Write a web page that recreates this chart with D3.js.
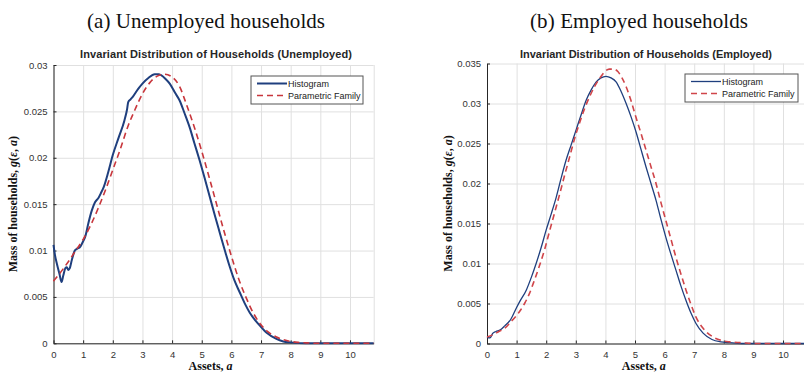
<!DOCTYPE html>
<html>
<head>
<meta charset="utf-8">
<script src="https://cdn.jsdelivr.net/npm/d3@7"></script>
<style>
    body { margin: 0; background: #fff; }
    svg { display: block; font-family: "Liberation Sans", Arial, sans-serif; }
    .grid line { stroke: #e0e0e0; stroke-width: 1; }
    .grid path { display: none; }
    .axis path, .axis line { stroke: #262626; }
    .axis text { fill: #333; font-size: 9.5px; font-family: "Liberation Sans", Arial, sans-serif; }
</style>
</head>
<body>
<div id="chart"></div>
<script>
// ---- data ----
var xTicks = [0, 1, 2, 3, 4, 5, 6, 7, 8, 9, 10];
var unempYTicks = [0, 0.005, 0.01, 0.015, 0.02, 0.025, 0.03];
var empYTicks = [0, 0.005, 0.01, 0.015, 0.02, 0.025, 0.03, 0.035];

// (a) unemployed, histogram
var unempHistX = [0, 0.05, 0.12, 0.2, 0.27, 0.33, 0.4, 0.45, 0.5, 0.55, 0.62, 0.72, 0.8, 0.9, 1.0, 1.07, 1.18, 1.29, 1.4, 1.52, 1.6, 1.7, 1.85, 2.0, 2.2, 2.39, 2.48, 2.52, 2.6, 2.68, 2.85, 3.0, 3.2, 3.41, 3.55, 3.63, 3.78, 3.92, 4.1, 4.25, 4.42, 4.59, 4.75, 4.93, 5.1, 5.27, 5.45, 5.61, 5.78, 5.94, 6.1, 6.28, 6.45, 6.62, 6.8, 6.96, 7.2, 7.5, 7.75, 8.0, 8.5, 9.0, 10.0, 10.8];
var unempHistY = [0.0106, 0.0095, 0.0085, 0.0075, 0.0066, 0.0073, 0.0081, 0.0082, 0.0079, 0.0081, 0.009, 0.01, 0.0102, 0.0104, 0.011, 0.0115, 0.013, 0.0143, 0.0152, 0.0157, 0.0162, 0.0169, 0.0185, 0.0203, 0.0222, 0.024, 0.0252, 0.026, 0.0263, 0.0266, 0.0274, 0.028, 0.0286, 0.029, 0.029, 0.0289, 0.0285, 0.028, 0.027, 0.0262, 0.0248, 0.0233, 0.0216, 0.0197, 0.0178, 0.0158, 0.0137, 0.0119, 0.01, 0.0083, 0.0068, 0.0055, 0.0043, 0.0033, 0.0025, 0.0019, 0.0011, 0.0005, 0.0002, 0.0001, 0, 0, 0, 0];

// (a) unemployed, parametric family
var unempParX = [0, 0.25, 0.5, 0.75, 1.0, 1.25, 1.5, 1.75, 2.0, 2.25, 2.5, 2.75, 3.0, 3.25, 3.5, 3.75, 4.0, 4.25, 4.5, 4.75, 5.0, 5.25, 5.5, 5.75, 6.0, 6.25, 6.5, 6.75, 7.0, 7.25, 7.5, 7.75, 8.0, 8.25, 8.5, 9.0, 10.0, 10.8];
var unempParY = [0.0067, 0.0077, 0.0088, 0.01, 0.0112, 0.0127, 0.0145, 0.0165, 0.0187, 0.0209, 0.0233, 0.0252, 0.0269, 0.0281, 0.0288, 0.029, 0.0287, 0.0277, 0.0256, 0.0233, 0.0207, 0.0179, 0.015, 0.0121, 0.0094, 0.0069, 0.0049, 0.0032, 0.002, 0.0012, 0.0007, 0.0004, 0.0002, 0.0001, 0.00005, 0, 0, 0];

// (b) employed, histogram
var empHistX = [0, 0.1, 0.2, 0.3, 0.45, 0.6, 0.8, 1.0, 1.1, 1.33, 1.5, 1.66, 1.83, 2.0, 2.17, 2.34, 2.5, 2.67, 2.84, 3.01, 3.18, 3.35, 3.52, 3.69, 3.85, 4.02, 4.19, 4.36, 4.53, 4.7, 4.87, 5.03, 5.2, 5.37, 5.54, 5.71, 5.87, 6.04, 6.21, 6.38, 6.55, 6.72, 6.89, 7.06, 7.3, 7.6, 7.9, 8.2, 8.6, 9.0, 10.0, 10.8];
var empHistY = [0.0008, 0.0007, 0.0013, 0.0015, 0.0017, 0.0022, 0.003, 0.0045, 0.0052, 0.0067, 0.0083, 0.01, 0.012, 0.0142, 0.0162, 0.0183, 0.0206, 0.0229, 0.0248, 0.0267, 0.0286, 0.0304, 0.0317, 0.0327, 0.0332, 0.0334, 0.0332, 0.0327, 0.0315, 0.03, 0.0283, 0.0265, 0.0243, 0.0221, 0.02, 0.0179, 0.0156, 0.0133, 0.0112, 0.0092, 0.0072, 0.0054, 0.0038, 0.0025, 0.0013, 0.0005, 0.0002, 0.0001, 0, 0, 0, 0];

// (b) employed, parametric family
var empParX = [0, 0.2, 0.4, 0.6, 0.8, 1.0, 1.1, 1.27, 1.44, 1.61, 1.78, 1.95, 2.11, 2.28, 2.45, 2.62, 2.79, 2.95, 3.12, 3.29, 3.46, 3.63, 3.8, 3.96, 4.13, 4.28, 4.42, 4.56, 4.7, 4.87, 5.03, 5.2, 5.37, 5.54, 5.71, 5.87, 6.04, 6.21, 6.38, 6.55, 6.72, 6.89, 7.06, 7.3, 7.6, 7.9, 8.2, 8.6, 9.0, 10.0, 10.8];
var empParY = [0.0008, 0.0011, 0.0015, 0.0019, 0.0027, 0.0035, 0.004, 0.005, 0.0063, 0.008, 0.0098, 0.0118, 0.014, 0.0163, 0.0186, 0.021, 0.0233, 0.0255, 0.0275, 0.0293, 0.0308, 0.0321, 0.0331, 0.0339, 0.0343, 0.0343, 0.034, 0.0332, 0.0321, 0.0303, 0.0283, 0.0263, 0.0242, 0.0221, 0.02, 0.0177, 0.0154, 0.0131, 0.0108, 0.0087, 0.0067, 0.0049, 0.0033, 0.0019, 0.0009, 0.0004, 0.0002, 0.0001, 0, 0, 0];

var svg = d3.select('#chart').append('svg')
    .attr('width', 804)
    .attr('height', 372);

function zip(xs, ys) {
    return xs.map(function (x, i) { return [x, ys[i]]; });
}

//one panel of the figure
function drawPanel(p) {
    var xScale = d3.scaleLinear().domain([0, 10.8]).range([p.left, p.right]);
    var yScale = d3.scaleLinear().domain([0, p.yMax]).range([p.bottom, p.top]);

    //caption above the panel
    svg.append('text')
        .attr('x', p.capX).attr('y', 28)
        .attr('text-anchor', 'middle')
        .attr('textLength', p.capLen)
        .style('font-family', '"Liberation Serif", "DejaVu Serif", serif')
        .style('font-size', '21px')
        .style('fill', '#111')
        .text(p.caption);

    //chart title
    svg.append('text')
        .attr('x', p.titleX).attr('y', 58)
        .attr('text-anchor', 'middle')
        .attr('textLength', p.titleLen)
        .style('font-size', '11px')
        .style('font-weight', 'bold')
        .style('fill', '#262626')
        .text(p.title);

    //grids
    svg.append('g').attr('class', 'grid')
        .attr('transform', 'translate(0,' + p.bottom + ')')
        .call(d3.axisBottom(xScale).tickValues(p.xTicks.concat([10.8])).tickSize(-(p.bottom - p.top)).tickFormat(''));
    svg.append('g').attr('class', 'grid')
        .attr('transform', 'translate(' + p.left + ',0)')
        .call(d3.axisLeft(yScale).tickValues(p.yTicks).tickSize(-(p.right - p.left)).tickFormat(''));

    //axes
    svg.append('g').attr('class', 'axis')
        .attr('transform', 'translate(0,' + p.bottom + ')')
        .call(d3.axisBottom(xScale).tickValues(p.xTicks).tickSizeInner(-3).tickSizeOuter(0).tickPadding(8));
    svg.append('g').attr('class', 'axis')
        .attr('transform', 'translate(' + p.left + ',0)')
        .call(d3.axisLeft(yScale).tickValues(p.yTicks).tickSizeInner(-3).tickSizeOuter(0).tickPadding(6)
            .tickFormat(function (d) { return String(d); }));

    var line = d3.line()
        .x(function (d) { return xScale(d[0]); })
        .y(function (d) { return yScale(d[1]); })
        .curve(d3.curveMonotoneX);

    svg.append('path')
        .datum(zip(p.histX, p.histY))
        .attr('d', line)
        .attr('fill', 'none')
        .attr('stroke', '#1f3f7e')
        .attr('stroke-width', p.histWidth);

    svg.append('path')
        .datum(zip(p.parX, p.parY))
        .attr('d', line)
        .attr('fill', 'none')
        .attr('stroke', p.parColor)
        .attr('stroke-width', 1.6)
        .attr('stroke-dasharray', '6,4');

    //legend
    var lg = svg.append('g').attr('transform', 'translate(' + p.legX + ',' + p.legY + ')');
    lg.append('rect')
        .attr('width', p.legW).attr('height', 28)
        .attr('fill', '#fff').attr('stroke', '#555').attr('stroke-width', 1);
    lg.append('line').attr('x1', 6).attr('x2', 36).attr('y1', 7.5).attr('y2', 7.5)
        .attr('stroke', '#1f3f7e').attr('stroke-width', p.histWidth);
    lg.append('line').attr('x1', 6).attr('x2', 36).attr('y1', 19.5).attr('y2', 19.5)
        .attr('stroke', p.parColor).attr('stroke-width', 1.6).attr('stroke-dasharray', '6,4');
    lg.append('text').attr('x', 37).attr('y', 11).style('font-size', '9px').style('fill', '#222').text('Histogram');
    lg.append('text').attr('x', 37).attr('y', 23).style('font-size', '9px').style('fill', '#222').text('Parametric Family');

    //axis titles
    var yl = svg.append('text')
        .attr('transform', 'translate(' + p.yLabX + ',' + ((p.top + p.bottom) / 2) + ') rotate(-90)')
        .attr('text-anchor', 'middle')
        .style('font-family', '"Liberation Serif", "DejaVu Serif", serif')
        .style('font-size', '12px')
        .style('font-weight', 'bold')
        .style('fill', '#111');
    yl.append('tspan').text('Mass of households, ');
    yl.append('tspan').style('font-style', 'italic').text('g');
    yl.append('tspan').text('(');
    yl.append('tspan').style('font-style', 'italic').text('ε');
    yl.append('tspan').text(', ');
    yl.append('tspan').style('font-style', 'italic').text('a');
    yl.append('tspan').text(')');

    var xl = svg.append('text')
        .attr('x', (p.left + xScale(10.8)) / 2 - 3).attr('y', 370)
        .attr('text-anchor', 'middle')
        .style('font-family', '"Liberation Serif", "DejaVu Serif", serif')
        .style('font-size', '12px')
        .style('font-weight', 'bold')
        .style('fill', '#111');
    xl.append('tspan').text('Assets, ');
    xl.append('tspan').style('font-style', 'italic').text('a');
}

drawPanel({
    caption: '(a) Unemployed households', capX: 206, capLen: 238,
    title: 'Invariant Distribution of Households (Unemployed)', titleX: 216, titleLen: 272,
    left: 53.5, right: 373.7, top: 65, bottom: 343.3, yMax: 0.03,
    xTicks: xTicks, yTicks: unempYTicks,
    histX: unempHistX, histY: unempHistY, parX: unempParX, parY: unempParY,
    histWidth: 2, parColor: '#c8363c',
    legX: 251, legY: 76, legW: 112, yLabX: 17
});

drawPanel({
    caption: '(b) Employed households', capX: 639, capLen: 218,
    title: 'Invariant Distribution of Households (Employed)', titleX: 646, titleLen: 252,
    left: 487, right: 806.7, top: 63.5, bottom: 343.5, yMax: 0.035,
    xTicks: xTicks, yTicks: empYTicks,
    histX: empHistX, histY: empHistY, parX: empParX, parY: empParY,
    histWidth: 1.3, parColor: '#d0454a',
    legX: 685, legY: 74, legW: 113, yLabX: 452
});
</script>
</body>
</html>
